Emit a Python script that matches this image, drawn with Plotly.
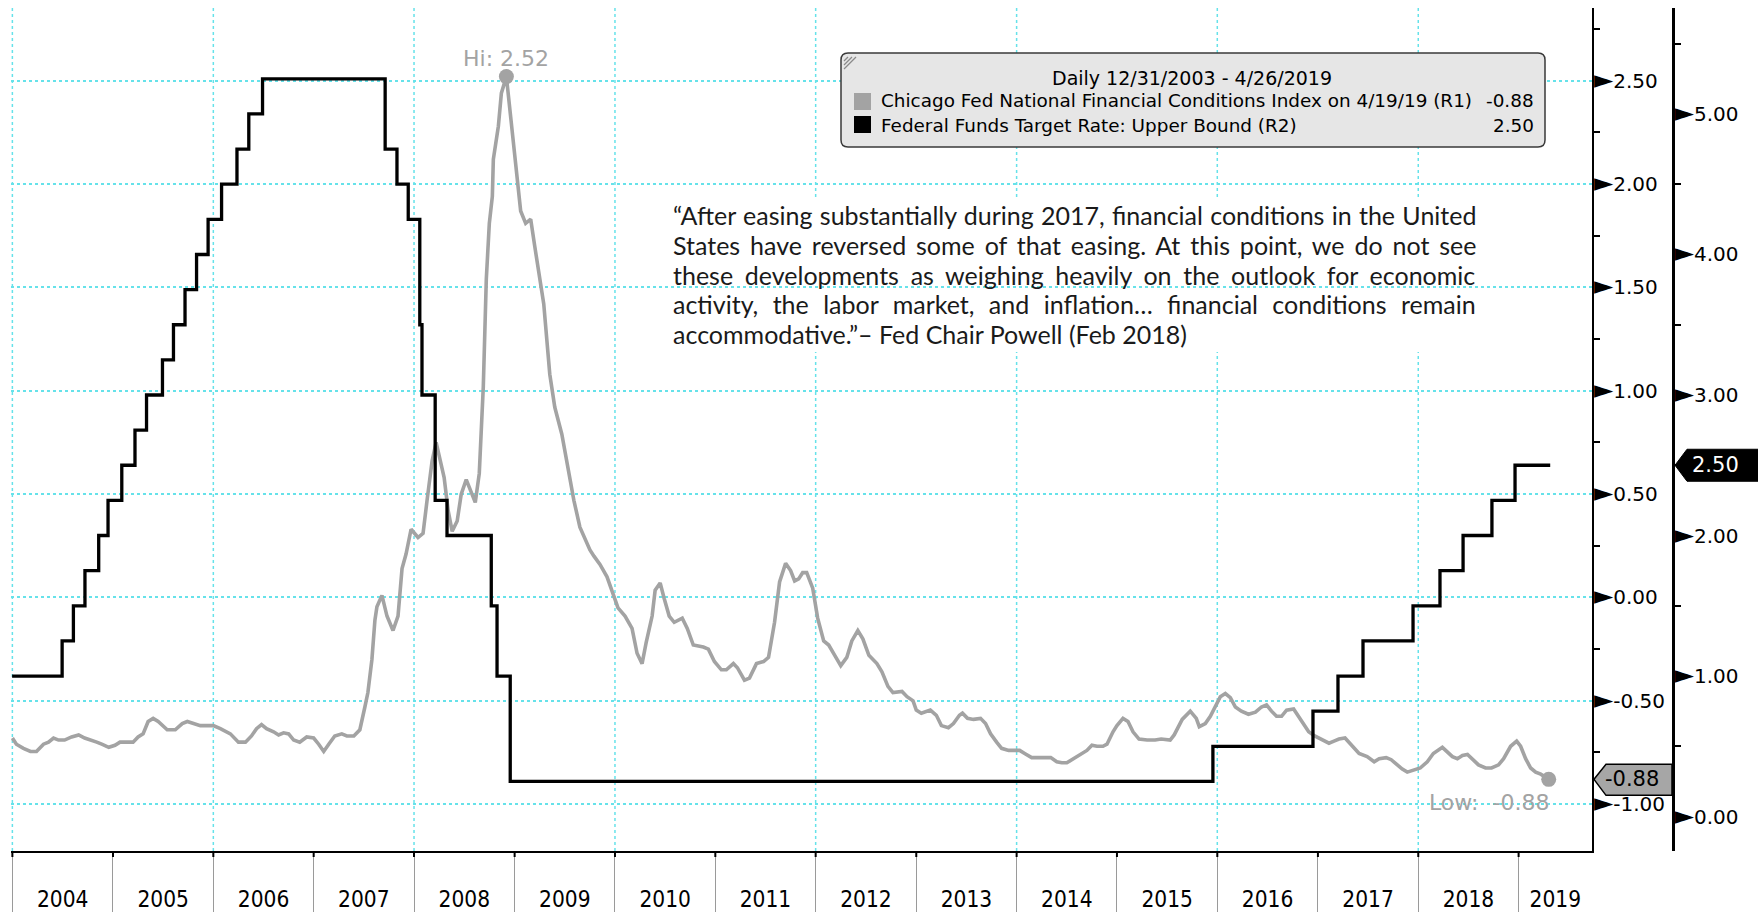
import plotly.graph_objects as go
import pandas as pd

# ---------------- data ----------------
ff_dates = ["2003-12-31", "2004-06-30", "2004-08-10", "2004-09-21", "2004-11-10", "2004-12-14",
            "2005-02-02", "2005-03-22", "2005-05-03", "2005-06-30", "2005-08-09", "2005-09-20",
            "2005-11-01", "2005-12-13", "2006-01-31", "2006-03-28", "2006-05-10", "2006-06-29",
            "2007-09-18", "2007-10-31", "2007-12-11", "2008-01-22", "2008-01-30", "2008-03-18",
            "2008-04-30", "2008-10-08", "2008-10-29", "2008-12-16", "2015-12-16", "2016-12-14",
            "2017-03-15", "2017-06-14", "2017-12-13", "2018-03-21", "2018-06-13", "2018-09-26",
            "2018-12-19", "2019-04-26"]
ff_rate = [1.00, 1.25, 1.50, 1.75, 2.00, 2.25, 2.50, 2.75, 3.00, 3.25, 3.50, 3.75, 4.00, 4.25,
           4.50, 4.75, 5.00, 5.25, 4.75, 4.50, 4.25, 3.50, 3.00, 2.25, 2.00, 1.50, 1.00, 0.25,
           0.50, 0.75, 1.00, 1.25, 1.50, 1.75, 2.00, 2.25, 2.50, 2.50]

# Chicago Fed NFCI (decimal year, value)
nfci_t = [2004.00, 2004.04, 2004.11, 2004.18, 2004.24, 2004.31, 2004.36, 2004.41, 2004.46, 2004.52,
          2004.59, 2004.66, 2004.72, 2004.79, 2004.84, 2004.89, 2004.96, 2005.02, 2005.07, 2005.14,
          2005.20, 2005.25, 2005.30, 2005.35, 2005.40, 2005.45, 2005.54, 2005.62, 2005.69, 2005.74,
          2005.80, 2005.87, 2005.92, 2006.00, 2006.07, 2006.17, 2006.25, 2006.32, 2006.38, 2006.43,
          2006.48, 2006.53, 2006.60, 2006.65, 2006.70, 2006.75, 2006.80, 2006.86, 2006.93, 2007.00,
          2007.05, 2007.10, 2007.15, 2007.21, 2007.28, 2007.33, 2007.40, 2007.46, 2007.51, 2007.54,
          2007.58, 2007.61, 2007.63, 2007.68, 2007.73, 2007.79, 2007.84, 2007.88, 2007.92, 2007.97,
          2008.04, 2008.09, 2008.13, 2008.18, 2008.22, 2008.26, 2008.30, 2008.34, 2008.38, 2008.43,
          2008.47, 2008.52, 2008.56, 2008.61, 2008.65, 2008.69, 2008.72, 2008.75, 2008.78, 2008.79,
          2008.84, 2008.87, 2008.92, 2008.97, 2009.02, 2009.06, 2009.11, 2009.16, 2009.20, 2009.24,
          2009.29, 2009.35, 2009.40, 2009.47, 2009.52, 2009.59, 2009.65, 2009.75, 2009.79, 2009.85,
          2009.92, 2010.03, 2010.10, 2010.17, 2010.22, 2010.27, 2010.31, 2010.37, 2010.40, 2010.45,
          2010.49, 2010.54, 2010.59, 2010.67, 2010.72, 2010.78, 2010.88, 2010.93, 2010.99, 2011.06,
          2011.11, 2011.18, 2011.22, 2011.29, 2011.34, 2011.41, 2011.48, 2011.53, 2011.59, 2011.64,
          2011.70, 2011.75, 2011.79, 2011.83, 2011.87, 2011.91, 2011.97, 2012.02, 2012.08, 2012.13,
          2012.19, 2012.25, 2012.31, 2012.36, 2012.42, 2012.47, 2012.53, 2012.61, 2012.66, 2012.72,
          2012.77, 2012.86, 2012.91, 2012.97, 2013.00, 2013.05, 2013.14, 2013.20, 2013.25, 2013.32,
          2013.37, 2013.43, 2013.46, 2013.51, 2013.57, 2013.64, 2013.69, 2013.74, 2013.80, 2013.85,
          2013.92, 2014.03, 2014.08, 2014.15, 2014.24, 2014.34, 2014.40, 2014.45, 2014.50, 2014.57,
          2014.64, 2014.70, 2014.75, 2014.80, 2014.86, 2014.90, 2014.96, 2015.00, 2015.06, 2015.11,
          2015.16, 2015.22, 2015.30, 2015.38, 2015.44, 2015.53, 2015.57, 2015.65, 2015.73, 2015.79,
          2015.82, 2015.88, 2015.93, 2015.98, 2016.03, 2016.08, 2016.13, 2016.18, 2016.24, 2016.31,
          2016.38, 2016.44, 2016.49, 2016.54, 2016.59, 2016.64, 2016.69, 2016.76, 2016.81, 2016.86,
          2016.91, 2016.97, 2017.04, 2017.11, 2017.16, 2017.21, 2017.27, 2017.34, 2017.41, 2017.49,
          2017.56, 2017.61, 2017.68, 2017.73, 2017.79, 2017.84, 2017.89, 2017.95, 2018.02, 2018.09,
          2018.15, 2018.24, 2018.29, 2018.34, 2018.39, 2018.44, 2018.49, 2018.54, 2018.60, 2018.67,
          2018.73, 2018.80, 2018.85, 2018.92, 2018.98, 2019.02, 2019.07, 2019.12, 2019.17, 2019.22,
          2019.30]
nfci_v = [-0.68, -0.71, -0.73, -0.745, -0.745, -0.71, -0.70, -0.68, -0.69, -0.69,
          -0.675, -0.665, -0.68, -0.69, -0.70, -0.71, -0.725, -0.715, -0.70, -0.70,
          -0.70, -0.675, -0.66, -0.60, -0.585, -0.60, -0.64, -0.64, -0.61, -0.60,
          -0.61, -0.62, -0.62, -0.62, -0.635, -0.66, -0.70, -0.70, -0.67, -0.635,
          -0.615, -0.635, -0.65, -0.665, -0.655, -0.66, -0.69, -0.70, -0.675, -0.68,
          -0.71, -0.745, -0.71, -0.67, -0.66, -0.67, -0.67, -0.64, -0.53, -0.46,
          -0.30, -0.11, -0.045, 0.01, -0.09, -0.16, -0.09, 0.14, 0.21, 0.33,
          0.29, 0.31, 0.47, 0.66, 0.75, 0.66, 0.58, 0.42, 0.32, 0.37,
          0.50, 0.57, 0.52, 0.46, 0.60, 1.02, 1.54, 1.81, 1.94, 2.12,
          2.28, 2.44, 2.52, 2.30, 2.08, 1.87, 1.81, 1.83, 1.70, 1.57,
          1.42, 1.08, 0.92, 0.79, 0.66, 0.47, 0.34, 0.23, 0.20, 0.16,
          0.10, -0.05, -0.09, -0.15, -0.27, -0.32, -0.22, -0.09, 0.035, 0.07,
          -0.005, -0.09, -0.12, -0.10, -0.15, -0.23, -0.24, -0.25, -0.31, -0.35,
          -0.35, -0.32, -0.34, -0.40, -0.39, -0.32, -0.31, -0.29, -0.12, 0.075,
          0.165, 0.13, 0.08, 0.09, 0.12, 0.12, 0.045, -0.10, -0.21, -0.23,
          -0.28, -0.33, -0.29, -0.21, -0.16, -0.20, -0.28, -0.32, -0.36, -0.43,
          -0.46, -0.455, -0.48, -0.50, -0.545, -0.56, -0.545, -0.57, -0.62, -0.63,
          -0.61, -0.57, -0.56, -0.585, -0.59, -0.585, -0.61, -0.66, -0.70, -0.73,
          -0.74, -0.74, -0.755, -0.775, -0.775, -0.775, -0.795, -0.80, -0.80, -0.78,
          -0.76, -0.74, -0.715, -0.72, -0.72, -0.71, -0.65, -0.62, -0.585, -0.60,
          -0.65, -0.685, -0.69, -0.69, -0.685, -0.69, -0.665, -0.59, -0.55, -0.585,
          -0.625, -0.61, -0.575, -0.53, -0.48, -0.465, -0.485, -0.53, -0.55, -0.565,
          -0.555, -0.53, -0.52, -0.55, -0.575, -0.575, -0.545, -0.54, -0.575, -0.615,
          -0.65, -0.67, -0.69, -0.705, -0.695, -0.685, -0.68, -0.72, -0.755, -0.77,
          -0.795, -0.78, -0.775, -0.785, -0.81, -0.83, -0.845, -0.835, -0.825, -0.795,
          -0.755, -0.725, -0.745, -0.77, -0.78, -0.765, -0.76, -0.785, -0.81, -0.825,
          -0.825, -0.81, -0.78, -0.72, -0.695, -0.72, -0.78, -0.825, -0.845, -0.855,
          -0.88]

years = list(range(2004, 2020))
year_labels = [str(y) for y in years]
grid_years = [2004, 2006, 2008, 2010, 2012, 2014, 2016, 2018]
r1_ticks = [-1.0, -0.5, 0.0, 0.5, 1.0, 1.5, 2.0, 2.5]
r1_minor = [-0.75, -0.25, 0.25, 0.75, 1.25, 1.75, 2.25, 2.75]
r2_ticks = [0, 1, 2, 3, 4, 5]
r2_minor = [0.5, 1.5, 2.5, 3.5, 4.5, 5.5]

legend_title = "Daily 12/31/2003 - 4/26/2019"
legend_names = ["Chicago Fed National Financial Conditions Index on 4/19/19 (R1)",
                "Federal Funds Target Rate: Upper Bound (R2)"]
quote_lines = [
    "\u201cAfter easing substantially during 2017, financial conditions in the United",
    "States have reversed some of that easing. At this point, we do not see",
    "these developments as weighing heavily on the outlook for economic",
    "activity, the labor market, and inflation\u2026 financial conditions remain",
    "accommodative.\u201d\u2013 Fed Chair Powell (Feb 2018)",
]
quote_word_spacing = [0.9, 3.5, 5.3, 8.0, 0]   # emulate justified text

# ---------------- helpers ----------------
def dec_to_date(t):
    y = int(t)
    return pd.Timestamp(year=y, month=1, day=1) + pd.Timedelta(days=(t - y) * 365.25)

nfci_x = [dec_to_date(t) for t in nfci_t]
ff_x = pd.to_datetime(ff_dates)

W, H = 1758, 912
ML, MR, MT, MB = 11, 60, 8, 61
PW, PH = W - ML - MR, H - MT - MB


def pxx(x):
    return (x - ML) / PW


def pxy(y):
    return 1 - (y - MT) / PH


XD = pxx(1592)
Y2POS = pxx(1673)
x_start = pd.Timestamp("2003-12-27")
x_end = pd.Timestamp("2019-09-25")

GRAY = "#a3a3a3"
CYAN = "#66e2ea"
COND = "DejaVu Sans Condensed, Liberation Sans Narrow, DejaVu Sans, sans-serif"
SANS = "DejaVu Sans, Verdana, sans-serif"
TRI = "<span style='font-size:25px'>\u25ba</span>"

fig = go.Figure()
fig.add_trace(go.Scatter(x=nfci_x, y=nfci_v, mode="lines", yaxis="y",
                         line=dict(color=GRAY, width=3.6), hoverinfo="skip", showlegend=False))
fig.add_trace(go.Scatter(x=ff_x, y=ff_rate, mode="lines", yaxis="y2", line_shape="hv",
                         line=dict(color="black", width=3.3), hoverinfo="skip", showlegend=False))

imax = max(range(len(nfci_v)), key=lambda i: nfci_v[i])
ilast = len(nfci_v) - 1
fig.add_trace(go.Scatter(x=[nfci_x[imax], nfci_x[ilast]], y=[nfci_v[imax], nfci_v[ilast]],
                         mode="markers", yaxis="y", marker=dict(color=GRAY, size=15),
                         hoverinfo="skip", showlegend=False, cliponaxis=False))

# year label positions: middle of the visible part of each year
boundaries = [pd.Timestamp(year=y, month=1, day=1) for y in years]
label_pos = []
for y in years:
    a = max(pd.Timestamp(year=y, month=1, day=1), x_start)
    b = min(pd.Timestamp(year=y + 1, month=1, day=1), x_end)
    label_pos.append(a + (b - a) / 2)

shapes = []
annotations = []

# vertical dashed gridlines
for gy in grid_years:
    shapes.append(dict(type="line", xref="x", yref="paper", x0=pd.Timestamp(year=gy, month=1, day=1),
                       x1=pd.Timestamp(year=gy, month=1, day=1), y0=0, y1=1, layer="below",
                       line=dict(color=CYAN, width=1.5, dash="3px,3px")))
# short black ticks at year boundaries
for b in boundaries:
    shapes.append(dict(type="line", xref="x", yref="paper", x0=b, x1=b, y0=0, y1=-6 / PH,
                       line=dict(color="black", width=2)))

# white box behind quote
shapes.append(dict(type="rect", xref="paper", yref="paper", x0=pxx(667), x1=pxx(1482),
                   y0=pxy(352), y1=pxy(198), fillcolor="white", line=dict(width=0), layer="between"))

# legend box
shapes.append(dict(type="path", xref="paper", yref="paper", xsizemode="pixel", ysizemode="pixel",
                   xanchor=pxx(841), yanchor=pxy(53),
                   path="M 7,0 L 697,0 Q 704,0 704,-7 L 704,-87 Q 704,-94 697,-94 L 7,-94 "
                        "Q 0,-94 0,-87 L 0,-7 Q 0,0 7,0 Z",
                   fillcolor="#e6e6e6", line=dict(color="#3a3a3a", width=1.5)))
for k in range(3):
    shapes.append(dict(type="path", xref="paper", yref="paper", xsizemode="pixel", ysizemode="pixel",
                       xanchor=pxx(843), yanchor=pxy(56),
                       path=f"M {1},{-5 - 4 * k} L {5 + 4 * k},{-1}",
                       line=dict(color="#8a8a8a", width=1.2)))
shapes.append(dict(type="rect", xref="paper", yref="paper", x0=pxx(854), x1=pxx(871),
                   y0=pxy(110), y1=pxy(93), fillcolor=GRAY, line=dict(width=0)))
shapes.append(dict(type="rect", xref="paper", yref="paper", x0=pxx(854), x1=pxx(871),
                   y0=pxy(133), y1=pxy(116), fillcolor="black", line=dict(width=0)))

lf = dict(family=SANS, size=19, color="black")
lfn = dict(family=SANS, size=18.4, color="black")
annotations.append(dict(xref="paper", yref="paper", x=pxx(1192), y=pxy(78), text=legend_title,
                        showarrow=False, xanchor="center", yanchor="middle", font=lf))
annotations.append(dict(xref="paper", yref="paper", x=pxx(879), y=pxy(101), text=legend_names[0],
                        showarrow=False, xanchor="left", yanchor="middle", font=lfn))
annotations.append(dict(xref="paper", yref="paper", x=pxx(1536), y=pxy(101), text=f"{nfci_v[-1]:.2f}",
                        showarrow=False, xanchor="right", yanchor="middle", font=lfn))
annotations.append(dict(xref="paper", yref="paper", x=pxx(879), y=pxy(125), text=legend_names[1],
                        showarrow=False, xanchor="left", yanchor="middle", font=lfn))
annotations.append(dict(xref="paper", yref="paper", x=pxx(1536), y=pxy(125), text=f"{ff_rate[-1]:.2f}",
                        showarrow=False, xanchor="right", yanchor="middle", font=lfn))

# quote
qy = [215, 245, 275, 304, 334]
for line, yy, ws in zip(quote_lines, qy, quote_word_spacing):
    annotations.append(dict(xref="paper", yref="paper", x=pxx(671), y=pxy(yy),
                            text=f"<span style='word-spacing:{ws}px'>{line}</span>",
                            showarrow=False, xanchor="left", yanchor="middle",
                            font=dict(family="Lato, Open Sans, sans-serif", size=25, color="#1a1a1a")))

# Hi / Low labels
annotations.append(dict(xref="x", yref="y", x=nfci_x[imax], y=nfci_v[imax], text=f"Hi: {nfci_v[imax]:.2f}",
                        showarrow=False, xanchor="center", yanchor="bottom", yshift=4,
                        font=dict(family=SANS, size=22, color=GRAY)))
annotations.append(dict(xref="x", yref="y", x=nfci_x[ilast], y=nfci_v[ilast],
                        text=f"Low:\u00a0 {nfci_v[ilast]:.2f}",
                        showarrow=False, xanchor="right", yanchor="top", yshift=-9, xshift=2,
                        font=dict(family=SANS, size=22, color=GRAY)))

# right-side value tags
shapes.append(dict(type="path", xref="paper", yref="y", xsizemode="pixel", ysizemode="pixel",
                   xanchor=XD, yanchor=nfci_v[-1],
                   path="M 2,0 L 14,15 L 80,15 L 80,-16 L 14,-16 Z",
                   fillcolor="#a6a6a6", line=dict(color="black", width=1.5)))
annotations.append(dict(xref="paper", yref="y", x=XD, y=nfci_v[-1], text=f"{nfci_v[-1]:.2f}",
                        showarrow=False, xanchor="left", yanchor="middle", xshift=11,
                        font=dict(family=SANS, size=21, color="black")))
shapes.append(dict(type="path", xref="paper", yref="y2", xsizemode="pixel", ysizemode="pixel",
                   xanchor=Y2POS, yanchor=ff_rate[-1],
                   path="M 2,0 L 14,16 L 86,16 L 86,-16 L 14,-16 Z",
                   fillcolor="black", line=dict(color="black", width=1)))
annotations.append(dict(xref="paper", yref="y2", x=Y2POS, y=ff_rate[-1], text=f"{ff_rate[-1]:.2f}",
                        showarrow=False, xanchor="left", yanchor="middle", xshift=17,
                        font=dict(family=SANS, size=21, color="white")))

tickfont = dict(family=SANS, size=20, color="black")
fig.update_layout(
    width=W, height=H, margin=dict(l=ML, r=MR, t=MT, b=MB, autoexpand=False),
    paper_bgcolor="white", plot_bgcolor="white", showlegend=False,
    xaxis=dict(domain=[0, XD], range=[x_start, x_end], type="date", automargin=False,
               tickmode="array", tickvals=label_pos, ticktext=year_labels, ticks="",
               ticklabelstandoff=27,
               minor=dict(tickmode="array", tickvals=boundaries, ticks="outside", ticklen=60,
                          tickwidth=1, tickcolor="#9a9a9a", showgrid=False),
               showline=True, linecolor="black", linewidth=2, showgrid=False, zeroline=False,
               tickfont=dict(family=COND, size=22.5, color="black"), fixedrange=True),
    yaxis=dict(side="right", anchor="x", range=[-1.2267, 2.852], automargin=False,
               tickmode="array", tickvals=r1_ticks, ticktext=[TRI + f"{v:.2f}" for v in r1_ticks],
               ticks="", ticklabelstandoff=-4, showline=True, linecolor="black", linewidth=2,
               showgrid=True, gridcolor=CYAN, gridwidth=1.5, griddash="3px,3px", zeroline=False,
               minor=dict(tickmode="array", tickvals=r1_minor, ticks="outside", ticklen=6,
                          tickwidth=1.5, tickcolor="black", showgrid=False),
               tickfont=tickfont, fixedrange=True),
    yaxis2=dict(side="right", anchor="free", position=Y2POS, overlaying="y", range=[-0.245, 5.754],
                automargin=False,
                tickmode="array", tickvals=r2_ticks, ticktext=[TRI + f"{v:.2f}" for v in r2_ticks],
                ticks="", ticklabelstandoff=-4, showline=True, linecolor="black", linewidth=2.5,
                showgrid=False, zeroline=False,
                minor=dict(tickmode="array", tickvals=r2_minor, ticks="outside", ticklen=6,
                           tickwidth=1.5, tickcolor="black", showgrid=False),
                tickfont=tickfont, fixedrange=True),
    shapes=shapes, annotations=annotations,
)

fig.write_html("out.html", config={"displayModeBar": False},
               post_script="document.body.style.margin='0';document.body.style.overflow='hidden';")
